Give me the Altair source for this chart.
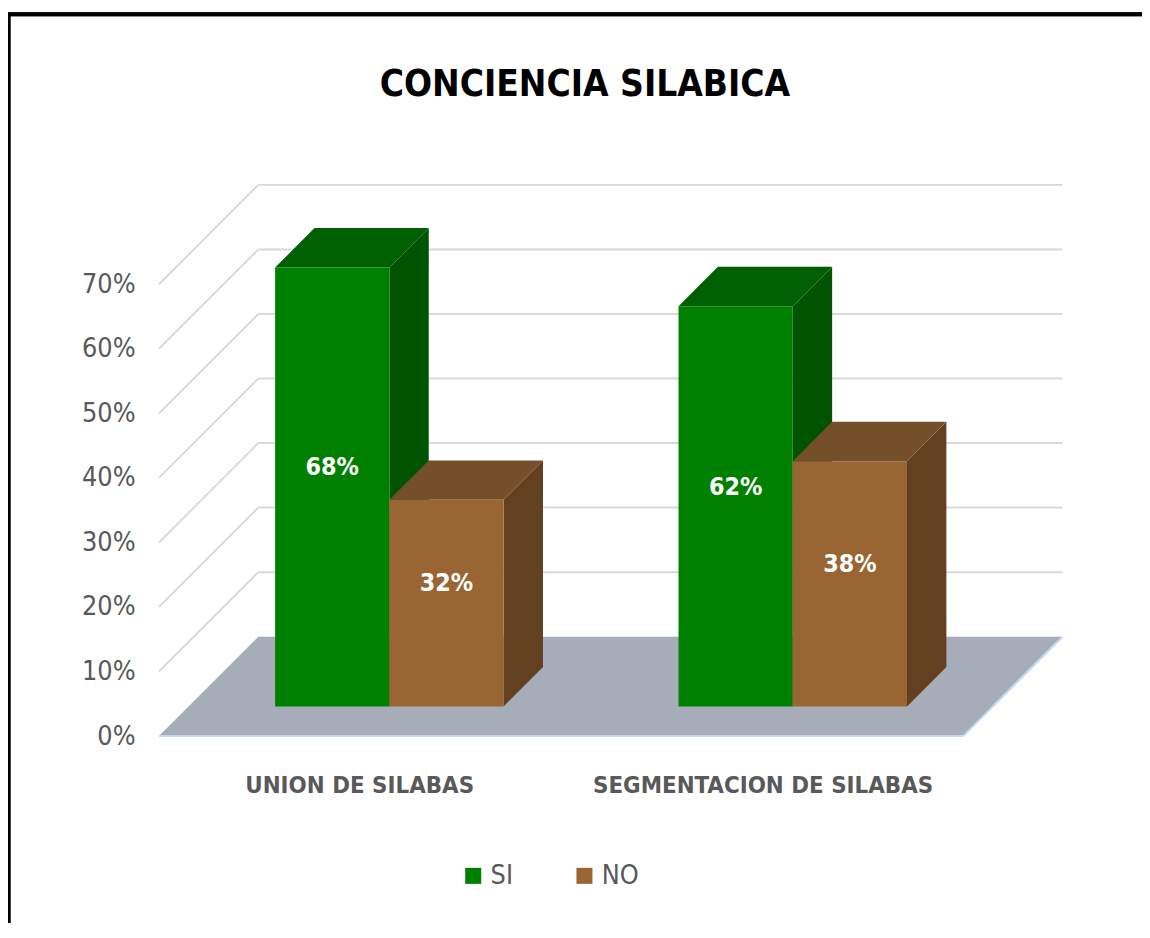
import altair as alt
import pandas as pd

# ---------------- data ----------------
categories = ["UNION DE SILABAS", "SEGMENTACION DE SILABAS"]
series = ["SI", "NO"]
si_values = [68, 62]
no_values = [32, 38]
y_ticks = [0, 10, 20, 30, 40, 50, 60, 70]
title_text = "CONCIENCIA SILABICA"

# ---------------- geometry of the pseudo-3D frame (units = % points) ----------------
X_MAX = 140.0
Y_MAX = 90.0
FLOOR_DEPTH = 15.4
FLOOR_W = 124.6
FRONT = 4.6
BAR_DEPTH = 6.1
BAR_W = 17.7
GROUP_STEP = 62.5
FIRST_GROUP = 31.1

FONT = "DejaVu Sans Condensed, Roboto, sans-serif"
GREY = "#595959"

front_color = {"SI": "#008000", "NO": "#996633"}
face_domain = ["SI_top", "SI_side", "NO_top", "NO_side"]
face_range = ["#005f00", "#005300", "#754f29", "#624020"]

values_by_series = {"SI": si_values, "NO": no_values}

fronts, faces, cats = [], [], []
for i, cat in enumerate(categories):
    c0 = FIRST_GROUP + i * GROUP_STEP
    cats.append({"cat": cat, "x": c0, "y": -7.7})
    c = c0 + FRONT
    for j, s in enumerate(series):
        v = values_by_series[s][i]
        xl = c - BAR_W if j == 0 else c
        xr = xl + BAR_W
        top = FRONT + v
        B = BAR_DEPTH
        fronts.append({"serie": s, "x": xl, "x2": xr, "y": FRONT, "y2": top,
                       "label": f"{v}%", "xc": (xl + xr) / 2,
                       "yl": FRONT + B / 2 + v / 2})
        sid = f"{s}_{i}_side"
        faces += [
            {"serie": s, "id": sid, "part": f"{s}_side", "x": xr, "y": FRONT, "y2": top},
            {"serie": s, "id": sid, "part": f"{s}_side", "x": xr + B, "y": FRONT + B, "y2": top + B},
        ]
        tid = f"{s}_{i}_top"
        faces += [
            {"serie": s, "id": tid, "part": f"{s}_top", "x": xl, "y": top, "y2": top},
            {"serie": s, "id": tid, "part": f"{s}_top", "x": xl + B, "y": top, "y2": top + B},
            {"serie": s, "id": tid, "part": f"{s}_top", "x": xr, "y": top, "y2": top + B},
            {"serie": s, "id": tid, "part": f"{s}_top", "x": xr + B, "y": top + B, "y2": top + B},
        ]

grid = []
for t in y_ticks[1:]:
    grid.append({"x": FLOOR_DEPTH, "y": FLOOR_DEPTH + t, "x2": X_MAX, "y2": FLOOR_DEPTH + t})
    grid.append({"x": 0.0, "y": float(t), "x2": FLOOR_DEPTH, "y2": FLOOR_DEPTH + t})

floor = pd.DataFrame([
    {"x": 0.0, "y": 0.0, "y2": 0.0},
    {"x": FLOOR_DEPTH, "y": 0.0, "y2": FLOOR_DEPTH},
    {"x": FLOOR_W, "y": 0.0, "y2": FLOOR_DEPTH},
    {"x": X_MAX, "y": FLOOR_DEPTH, "y2": FLOOR_DEPTH},
])
floor_edges = pd.DataFrame([
    {"x": 0.0, "y": 0.0, "x2": FLOOR_W, "y2": 0.0},
    {"x": FLOOR_W, "y": 0.0, "x2": X_MAX, "y2": FLOOR_DEPTH},
])

fronts = pd.DataFrame(fronts)
faces = pd.DataFrame(faces)
grid = pd.DataFrame(grid)
cats = pd.DataFrame(cats)

xs = alt.Scale(domain=[0, X_MAX], nice=False, zero=False)
ys = alt.Scale(domain=[0, Y_MAX], nice=False, zero=False)
yaxis = alt.Axis(values=y_ticks, labelExpr="datum.value + '%'", labelFontSize=27,
                 labelFont=FONT, labelColor=GREY, labelPadding=24, ticks=False,
                 domain=False, grid=False, title=None)


def X(f="x"):
    return alt.X(f"{f}:Q", scale=xs, axis=None)


def Y(f="y"):
    return alt.Y(f"{f}:Q", scale=ys, axis=yaxis)


grid_layer = alt.Chart(grid).mark_rule(color="#d9d9d9", strokeWidth=2).encode(
    x=X(), y=Y(), x2="x2:Q", y2="y2:Q")

floor_layer = alt.Chart(floor).mark_area(color="#a6adb8", orient="vertical").encode(
    x=X(), y=Y(), y2="y2:Q")

floor_edge_layer = alt.Chart(floor_edges).mark_rule(color="#c5d9f1", strokeWidth=2).encode(
    x=X(), y=Y(), x2="x2:Q", y2="y2:Q")

face_fill = alt.Fill("part:N", scale=alt.Scale(domain=face_domain, range=face_range), legend=None)

si_faces = alt.Chart(faces).transform_filter("datum.serie == 'SI'").mark_area(
    orient="vertical").encode(x=X(), y=Y(), y2="y2:Q", detail="id:N", fill=face_fill)
no_faces = alt.Chart(faces).transform_filter("datum.serie == 'NO'").mark_area(
    orient="vertical").encode(x=X(), y=Y(), y2="y2:Q", detail="id:N", fill=face_fill)

front_layer = alt.Chart(fronts).mark_rect().encode(
    x=X(), x2="x2:Q", y=Y(), y2="y2:Q",
    color=alt.Color("serie:N",
                    scale=alt.Scale(domain=series, range=[front_color[s] for s in series]),
                    legend=alt.Legend(orient="none", legendX=303, legendY=712,
                                      direction="horizontal", title=None,
                                      symbolType="square", symbolSize=260,
                                      symbolStrokeWidth=0, labelFontSize=27,
                                      labelFont=FONT, labelColor=GREY,
                                      columnPadding=58, symbolOffset=0, labelOffset=4)))

label_layer = alt.Chart(fronts).mark_text(color="white", fontSize=25, fontWeight="bold",
                                          font=FONT, baseline="middle").encode(
    x=X("xc"), y=Y("yl"), text="label:N")

cat_layer = alt.Chart(cats).mark_text(color=GREY, fontSize=24, fontWeight="bold",
                                      font=FONT, baseline="middle").encode(
    x=X(), y=Y(), text="cat:N")

border_left = alt.Chart(cats).mark_rule(color="black", strokeWidth=3).encode(
    x=alt.value(-151), y=alt.value(-141), y2=alt.value(800))
border_top = alt.Chart(cats).mark_rule(color="black", strokeWidth=4).encode(
    x=alt.value(-152), x2=alt.value(990), y=alt.value(-142))

chart = alt.layer(
    grid_layer, floor_layer, floor_edge_layer, si_faces, no_faces, front_layer,
    label_layer, cat_layer, border_left, border_top
).properties(
    width=910, height=585,
    title=alt.Title(title_text, fontSize=37, font=FONT, fontWeight="bold", color="black",
                    anchor="middle", dx=-26, offset=-92),
    padding={"left": 152, "top": 145, "right": 80, "bottom": 185},
    autosize=alt.AutoSizeParams(type="none"),
).configure_view(stroke=None)

chart.save("out.html", embed_options={"renderer": "svg", "actions": False})
